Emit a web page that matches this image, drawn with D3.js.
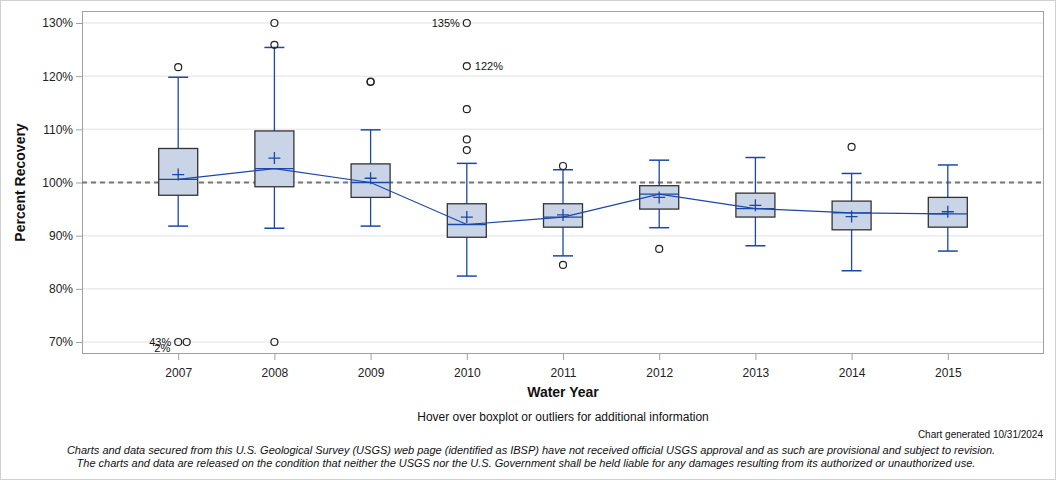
<!DOCTYPE html>
<html><head><meta charset="utf-8">
<script src="https://cdn.jsdelivr.net/npm/d3@7"></script>
<style>body{margin:0;background:#fff;font-family:Arial,"Liberation Sans",sans-serif}</style>
</head><body><div id="chart"></div>
<script>
const years = ["2007","2008","2009","2010","2011","2012","2013","2014","2015"];
const q1 =      [97.6, 99.2, 97.2, 89.7, 91.6, 95.0, 93.5, 91.1, 91.6];
const medians = [100.6,102.6,100.0,92.1, 93.5, 97.8, 95.1, 94.3, 94.1];
const q3 =      [106.4,109.7,103.5,96.0, 96.0, 99.4, 98.0, 96.5, 97.2];
const means =   [101.5,104.6,100.8,93.5, 93.9, 97.2, 95.7, 93.6, 94.5];
const whiskLo = [91.8, 91.4, 91.8, 82.4, 86.2, 91.5, 88.1, 83.4, 87.1];
const whiskHi = [119.8,125.4,109.9,103.6,102.4,104.2,104.7,101.7,103.3];
// outliers: [year, plotted value, x offset index, label, label side]
const outYear  = ["2007","2007","2007","2008","2008","2008","2009","2009","2010","2010","2010","2010","2010","2011","2011","2012","2014"];
const outValue = [121.7, 70,    70,    130,   125.9, 70,    118.9, 119.0, 130,   121.9, 113.8, 108.1, 106.1, 103.1, 84.5,  87.5,  106.7];
const outShift = [0,     0,     1,     0,     0,     0,     0,     0,     0,     0,     0,     0,     0,     0,     0,     0,     0];
const outLabel = ["",    "43%", "",    "",    "",    "",    "",    "",    "135%","122%","",    "",    "",    "",    "",    "",    ""];
const outSide  = ["",    "left","",    "",    "",    "",    "",    "",    "left","right","",   "",    "",    "",    "",    "",    ""];
const yTicks = [70,80,90,100,110,120,130];

const W = 1056, H = 480;
const m = {left:82, right:1044, top:11, bottom:354};
const svg = d3.select("#chart").append("svg").attr("width",W).attr("height",H);
svg.append("rect").attr("x",0.5).attr("y",0.5).attr("width",W-1).attr("height",H-1)
  .attr("fill","#fff").attr("stroke","#d0d0d0");

const x = d3.scalePoint().domain(years).range([m.left, m.right]).padding(1);
const y = d3.scaleLinear().domain([70,130]).range([342,23]);

// gridlines
svg.append("g").selectAll("line").data(yTicks).join("line")
  .attr("x1",m.left).attr("x2",m.right).attr("y1",d=>y(d)).attr("y2",d=>y(d))
  .attr("stroke","#ebebeb").attr("stroke-width",1.5);

// frame
svg.append("rect").attr("x",m.left+0.5).attr("y",m.top+0.5)
  .attr("width",m.right-m.left-1).attr("height",m.bottom-m.top-1)
  .attr("fill","none").attr("stroke","#a0a0a0");

// axes
const yAxis = d3.axisLeft(y).tickValues(yTicks).tickFormat(d=>d+"%").tickSize(6).tickSizeOuter(0);
const gy = svg.append("g").attr("transform",`translate(${m.left},0)`).call(yAxis);
gy.select(".domain").remove();
gy.selectAll("line").attr("stroke","#a0a0a0");
gy.selectAll("text").attr("font-size",12).attr("fill","#222").attr("font-family","Arial,'Liberation Sans',sans-serif").attr("x",-9);

const xAxis = d3.axisBottom(x).tickSize(6).tickSizeOuter(0);
const gx = svg.append("g").attr("transform",`translate(0,${m.bottom})`).call(xAxis);
gx.select(".domain").remove();
gx.selectAll("line").attr("stroke","#a0a0a0");
gx.selectAll("text").attr("font-size",12).attr("fill","#222").attr("font-family","Arial,'Liberation Sans',sans-serif").attr("dy","1.2em");

// reference line 100%
svg.append("line").attr("x1",m.left).attr("x2",m.right).attr("y1",y(100)).attr("y2",y(100))
  .attr("stroke","#777").attr("stroke-width",2).attr("stroke-dasharray","5,4");

const blue = "#1a48a8";
const bw = 39;
const g = svg.append("g");
years.forEach((yr,i)=>{
  const cx = x(yr);
  // whiskers
  g.append("line").attr("x1",cx).attr("x2",cx).attr("y1",y(q3[i])).attr("y2",y(whiskHi[i])).attr("stroke",blue).attr("stroke-width",1.3);
  g.append("line").attr("x1",cx).attr("x2",cx).attr("y1",y(q1[i])).attr("y2",y(whiskLo[i])).attr("stroke",blue).attr("stroke-width",1.3);
  g.append("line").attr("x1",cx-10).attr("x2",cx+10).attr("y1",y(whiskHi[i])).attr("y2",y(whiskHi[i])).attr("stroke",blue).attr("stroke-width",1.5);
  g.append("line").attr("x1",cx-10).attr("x2",cx+10).attr("y1",y(whiskLo[i])).attr("y2",y(whiskLo[i])).attr("stroke",blue).attr("stroke-width",1.5);
  // box
  g.append("rect").attr("x",cx-bw/2).attr("y",y(q3[i])).attr("width",bw).attr("height",y(q1[i])-y(q3[i]))
    .attr("fill","#c9d5e6").attr("stroke","#333").attr("stroke-width",1.3);
  // median
  g.append("line").attr("x1",cx-bw/2).attr("x2",cx+bw/2).attr("y1",y(medians[i])).attr("y2",y(medians[i])).attr("stroke",blue).attr("stroke-width",1.3);
  // mean
  g.append("path").attr("d",`M${cx-6},${y(means[i])}h12M${cx},${y(means[i])-6}v12`).attr("stroke",blue).attr("stroke-width",1.3).attr("fill","none");
});

// median connecting line
svg.append("path").datum(years).attr("fill","none").attr("stroke",blue).attr("stroke-width",1.2)
  .attr("d",d3.line().x(d=>x(d)).y((d,i)=>y(medians[i])));

// outliers
const og = svg.append("g");
outYear.forEach((yr,i)=>{
  const cx = x(yr) + outShift[i]*8.5, cy = y(outValue[i]);
  og.append("circle").attr("cx",cx).attr("cy",cy).attr("r",3.5).attr("fill","none").attr("stroke","#222").attr("stroke-width",1.2);
  if(outLabel[i]){
    og.append("text").attr("x", outSide[i]==="left" ? cx-7 : cx+8).attr("y",cy+4)
      .attr("text-anchor", outSide[i]==="left" ? "end" : "start")
      .attr("font-size",11).attr("fill","#111").text(outLabel[i]);
  }
});
// second overlapped off-scale label for 2007
og.append("text").attr("x",x("2007")-8).attr("y",y(70)+10).attr("text-anchor","end")
  .attr("font-size",11).attr("fill","#111").text("2%");

// titles
svg.append("text").attr("transform",`translate(25,${(m.top+m.bottom)/2}) rotate(-90)`)
  .attr("text-anchor","middle").attr("font-size",14).attr("font-weight","bold").attr("fill","#111").text("Percent Recovery");
svg.append("text").attr("x",(m.left+m.right)/2).attr("y",397).attr("text-anchor","middle")
  .attr("font-size",14).attr("font-weight","bold").attr("fill","#111").text("Water Year");
svg.append("text").attr("x",563).attr("y",421).attr("text-anchor","middle")
  .attr("font-size",12).attr("fill","#111").text("Hover over boxplot or outliers for additional information");
svg.append("text").attr("x",1043).attr("y",438).attr("text-anchor","end")
  .attr("font-size",10).attr("fill","#111").text("Chart generated 10/31/2024");
svg.append("text").attr("x",531).attr("y",454).attr("text-anchor","middle").attr("font-style","italic")
  .attr("font-size",11).attr("fill","#111").text("Charts and data secured from this U.S. Geological Survey (USGS) web page (identified as IBSP) have not received official USGS approval and as such are provisional and subject to revision.");
svg.append("text").attr("x",526).attr("y",467).attr("text-anchor","middle").attr("font-style","italic")
  .attr("font-size",11).attr("fill","#111").text("The charts and data are released on the condition that neither the USGS nor the U.S. Government shall be held liable for any damages resulting from its authorized or unauthorized use.");
</script></body></html>
